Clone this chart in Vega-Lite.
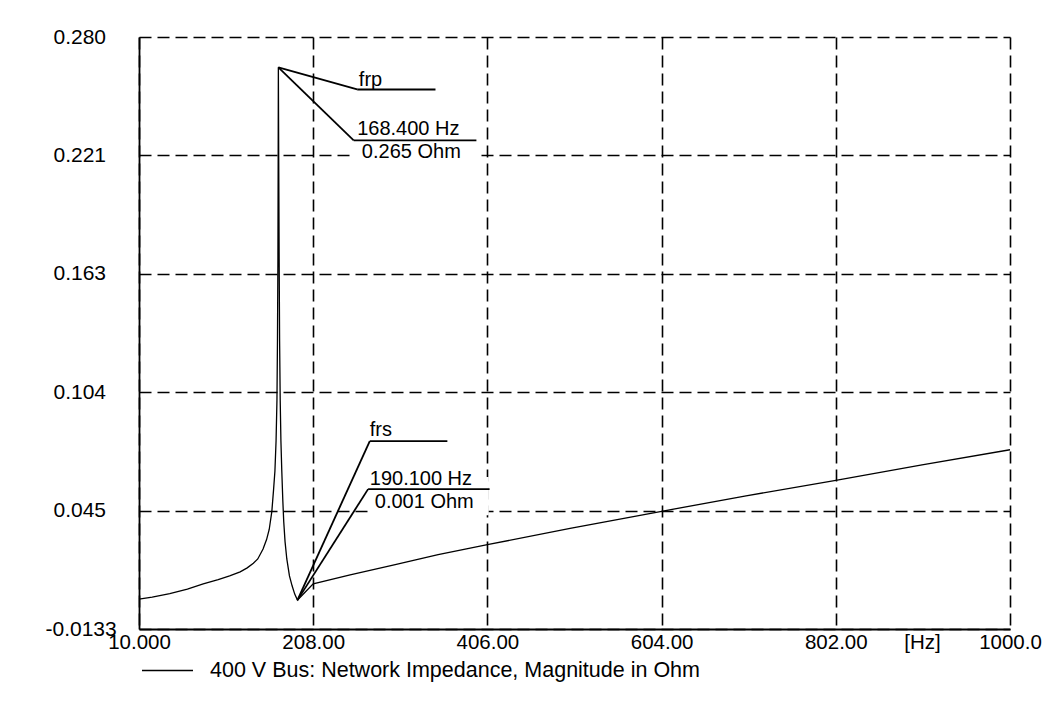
{
  "$schema": "https://vega.github.io/schema/vega-lite/v6.json",
  "width": 871,
  "height": 592,
  "autosize": {"type": "none"},
  "padding": {"left": 139, "top": 37, "right": 34, "bottom": 84},
  "background": "white",
  "config": {"view": {"stroke": null}, "font": "Liberation Sans"},
  "datasets": {
    "curve": [
      {"x": 10, "y": 0.0015}, {"x": 25, "y": 0.0025}, {"x": 45, "y": 0.0042}, {"x": 65, "y": 0.0065},
      {"x": 83, "y": 0.0091}, {"x": 100, "y": 0.0112}, {"x": 113, "y": 0.0130}, {"x": 125, "y": 0.0150},
      {"x": 133, "y": 0.0170}, {"x": 140, "y": 0.0193}, {"x": 145, "y": 0.0214}, {"x": 151, "y": 0.0263},
      {"x": 155, "y": 0.0310}, {"x": 158, "y": 0.0360}, {"x": 161, "y": 0.0450}, {"x": 163, "y": 0.0560},
      {"x": 164.5, "y": 0.0650}, {"x": 165.8, "y": 0.0800}, {"x": 166.8, "y": 0.1000}, {"x": 167.4, "y": 0.1300},
      {"x": 167.9, "y": 0.1700}, {"x": 168.2, "y": 0.2200}, {"x": 168.4, "y": 0.2650}, {"x": 168.8, "y": 0.2200},
      {"x": 169.3, "y": 0.1700}, {"x": 169.8, "y": 0.1300}, {"x": 170.5, "y": 0.1000}, {"x": 171.3, "y": 0.0800},
      {"x": 172.3, "y": 0.0650}, {"x": 173.5, "y": 0.0500}, {"x": 174.5, "y": 0.0400}, {"x": 176, "y": 0.0300},
      {"x": 178, "y": 0.0214}, {"x": 181, "y": 0.0130}, {"x": 184, "y": 0.0081}, {"x": 187, "y": 0.0040},
      {"x": 190.1, "y": 0.0010}, {"x": 199, "y": 0.0050}, {"x": 208, "y": 0.0091}, {"x": 250, "y": 0.0135},
      {"x": 300, "y": 0.0185}, {"x": 350, "y": 0.0235}, {"x": 406, "y": 0.0285}, {"x": 500, "y": 0.0365},
      {"x": 604, "y": 0.0450}, {"x": 700, "y": 0.0527}, {"x": 802, "y": 0.0603}, {"x": 900, "y": 0.0680},
      {"x": 1000, "y": 0.0755}
    ],
    "leaders": [
      {"x": 168.4, "y": 0.265, "x2": 258, "y2": 0.254},
      {"x": 258, "y": 0.254, "x2": 347, "y2": 0.254},
      {"x": 168.4, "y": 0.265, "x2": 254, "y2": 0.2288},
      {"x": 254, "y": 0.2288, "x2": 393.5, "y2": 0.2288},
      {"x": 190.1, "y": 0.001, "x2": 272.3, "y2": 0.0798},
      {"x": 272.3, "y": 0.0798, "x2": 360.5, "y2": 0.0798},
      {"x": 190.1, "y": 0.001, "x2": 270.4, "y2": 0.056},
      {"x": 270.4, "y": 0.056, "x2": 408.5, "y2": 0.056}
    ],
    "labels": [
      {"x": 259.9, "y": 0.2559, "text": "frp"},
      {"x": 258, "y": 0.2313, "text": "168.400 Hz"},
      {"x": 263.3, "y": 0.2199, "text": "0.265 Ohm"},
      {"x": 272.3, "y": 0.0822, "text": "frs"},
      {"x": 272.3, "y": 0.0581, "text": "190.100 Hz"},
      {"x": 278, "y": 0.0465, "text": "0.001 Ohm"}
    ],
    "boxes": [
      {"x": 254, "x2": 396, "y": 0.2160, "y2": 0.2310},
      {"x": 271, "x2": 407.5, "y": 0.0430, "y2": 0.062}
    ]
  },
  "encoding": {
    "x": {
      "field": "x",
      "type": "quantitative",
      "scale": {"domain": [10, 1000], "nice": false, "zero": false},
      "axis": {
        "values": [10, 208, 406, 604, 802, 1000],
        "format": ".5r",
        "grid": true,
        "gridColor": "black",
        "gridDash": [12, 6],
        "gridWidth": 1.6,
        "gridOpacity": 1,
        "domainColor": "black",
        "domainWidth": 1.8,
        "ticks": false,
        "labelFont": "Liberation Sans",
        "labelFontSize": 20.5,
        "labelColor": "black",
        "labelPadding": 3,
        "labelFlush": false,
        "labelOverlap": false,
        "title": "[Hz]",
        "titleFont": "Liberation Sans",
        "titleFontSize": 20.5,
        "titleFontWeight": "normal",
        "titleColor": "black",
        "titleX": 783,
        "titleY": 3,
        "titleBaseline": "top",
        "titleAlign": "center"
      }
    },
    "y": {
      "field": "y",
      "type": "quantitative",
      "scale": {"domain": [-0.0133, 0.28], "nice": false, "zero": false},
      "axis": {
        "values": [-0.0133, 0.04536, 0.10402, 0.16268, 0.22134, 0.28],
        "labelExpr": "datum.value < 0 ? replace(format(datum.value, '.4f'), '\u2212', '-') : format(datum.value, '.3f')",
        "grid": true,
        "gridColor": "black",
        "gridDash": [12, 6],
        "gridWidth": 1.6,
        "gridOpacity": 1,
        "domainColor": "black",
        "domainWidth": 1.8,
        "ticks": false,
        "labelFont": "Liberation Sans",
        "labelFontSize": 21,
        "labelColor": "black",
        "labelAlign": "left",
        "labelPadding": {"condition": {"test": "datum.value < 0", "value": 94}, "value": 86},
        "labelOverlap": false,
        "labelFlush": false,
        "title": null
      }
    }
  },
  "layer": [
    {
      "data": {"name": "boxes"},
      "mark": {"type": "rect", "fill": "white", "strokeWidth": 0},
      "encoding": {"x2": {"field": "x2"}, "y2": {"field": "y2"}}
    },
    {
      "data": {"name": "curve"},
      "mark": {"type": "line", "strokeWidth": 1.3},
      "encoding": {
        "color": {
          "datum": "400 V Bus: Network Impedance, Magnitude in Ohm",
          "type": "nominal",
          "scale": {"range": ["black"]},
          "legend": {
            "orient": "none",
            "legendX": 2,
            "legendY": 607,
            "title": null,
            "padding": 0,
            "symbolType": "stroke",
            "symbolSize": 2600,
            "symbolStrokeWidth": 1.3,
            "labelFont": "Liberation Sans",
            "labelFontSize": 21.5,
            "labelColor": "black",
            "labelLimit": 800,
            "labelOffset": 16
          }
        }
      }
    },
    {
      "data": {"name": "leaders"},
      "mark": {"type": "rule", "color": "black", "strokeWidth": 1.8},
      "encoding": {"x2": {"field": "x2"}, "y2": {"field": "y2"}}
    },
    {
      "data": {"name": "labels"},
      "mark": {"type": "text", "align": "left", "baseline": "alphabetic", "fontSize": 20, "font": "Liberation Sans", "color": "black"},
      "encoding": {"text": {"field": "text"}}
    }
  ]
}
